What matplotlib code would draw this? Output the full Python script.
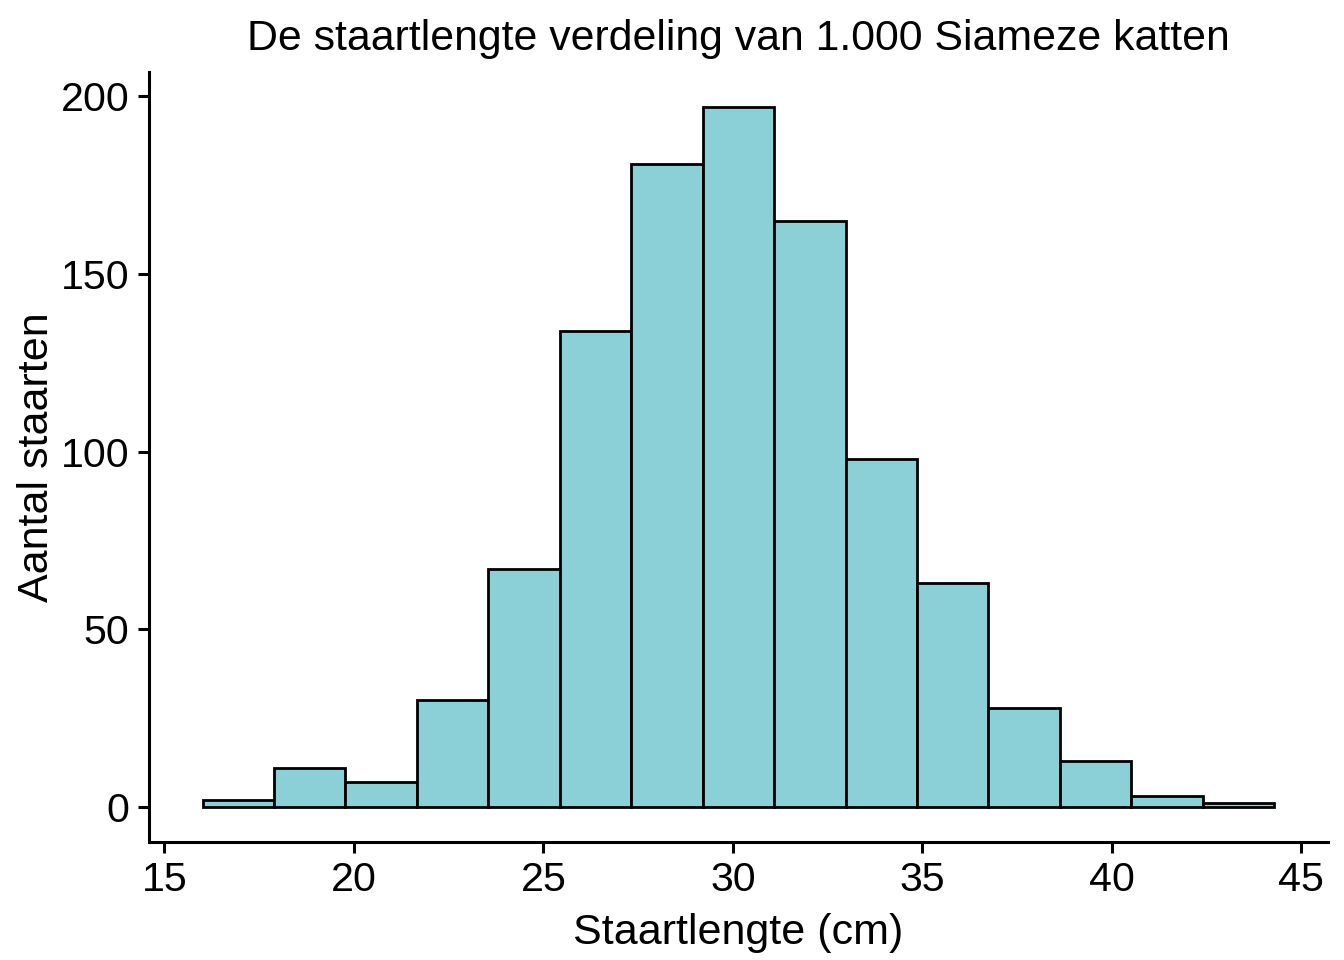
import numpy as np
import matplotlib
matplotlib.use("Agg")
import matplotlib.pyplot as plt

plt.rcParams['font.family'] = ['Liberation Sans', 'DejaVu Sans']

# bin edges (cm) and counts
bin_start = 16.01
bin_width = 1.885
counts = [2, 11, 7, 30, 67, 134, 181, 197, 165, 98, 63, 28, 13, 3, 1]
edges = bin_start + bin_width * np.arange(len(counts) + 1)

fig = plt.figure(figsize=(6.72, 4.8), dpi=200)
ax = fig.add_axes([0.1109, 0.1229, 0.877, 0.802])

ax.bar(edges[:-1], counts, width=bin_width, align='edge',
       color='#8ad0d6', edgecolor='black', linewidth=1.0)

span = edges[-1] - edges[0]
ax.set_xlim(edges[0] - 0.05 * span, edges[-1] + 0.05 * span)
ax.set_ylim(-0.05 * max(counts), 1.05 * max(counts))
ax.set_xticks([15, 20, 25, 30, 35, 40, 45])
ax.set_yticks([0, 50, 100, 150, 200])

for s in ['top', 'right']:
    ax.spines[s].set_visible(False)
for s in ['left', 'bottom']:
    ax.spines[s].set_linewidth(1.1)
ax.tick_params(axis='both', labelsize=14.8, length=4, width=1.1,
               color='black', labelcolor='black', pad=3)

ax.set_xlabel('Staartlengte (cm)', fontsize=15.5, labelpad=5)
ax.set_ylabel('Aantal staarten', fontsize=15.5, labelpad=1.5)
ax.set_title('De staartlengte verdeling van 1.000 Siameze katten',
             fontsize=15.4, pad=8)

fig.savefig('out.png', dpi=200)
